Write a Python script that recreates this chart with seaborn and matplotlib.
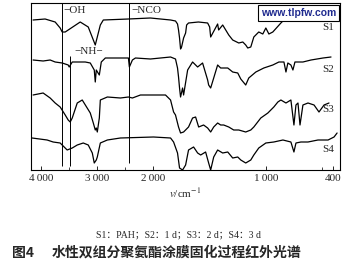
import numpy as np
import pandas as pd
import matplotlib
matplotlib.use("Agg")
import matplotlib.pyplot as plt
import seaborn as sns

# ---- data (wavenumber cm-1, relative transmittance incl. vertical offset) ----
s1_x = [4143, 3929, 3750, 3661, 3625, 3571, 3304, 3161, 3036, 2946, 2893, 2446, 2054, 1848, 1804,
        1786, 1777, 1768, 1759, 1750, 1732, 1714, 1705, 1688, 1600, 1518, 1500, 1491, 1429, 1420,
        1384, 1330, 1295, 1241, 1205, 1179, 1161, 1134, 1107, 1063, 1027, 1000, 973, 938, 866,
        821, 777, 732, 670, 625, 536, 482, 402]
s1_y = [150, 151, 148, 142, 138, 138, 148, 143, 125, 145, 150, 151, 152, 150, 149,
        146, 140, 132, 121, 123, 132, 137, 145, 147, 148, 147, 143, 133, 146, 140,
        145, 135, 130, 127, 128, 125, 122, 123, 133, 138, 136, 142, 136, 138, 147,
        152, 150, 155, 153, 157, 152, 150, 150]

s2_x = [4143, 3964, 3839, 3750, 3625, 3518, 3500, 3446, 3214, 3125, 3054, 3036, 3018, 2964, 2929,
        2857, 2446, 2429, 2375, 2321, 2054, 1848, 1804, 1786, 1777, 1768, 1759, 1741, 1732, 1696,
        1652, 1607, 1563, 1518, 1509, 1491, 1464, 1429, 1402, 1339, 1295, 1250, 1223, 1179, 1152,
        1089, 1018, 938, 884, 839, 821, 804, 777, 759, 741, 670, 598, 491, 420]
s2_y = [110, 109, 110, 108, 107, 105, 103, 108, 108, 107, 100, 88, 100, 95, 108,
        112, 112, 103, 110, 112, 111, 113, 111, 102, 93, 82, 73, 82, 75, 100,
        108, 103, 107, 90, 85, 82, 92, 105, 102, 102, 98, 97, 91, 85, 92,
        98, 102, 105, 108, 108, 98, 107, 105, 100, 108, 108, 110, 112, 113]

s3_x = [4143, 3964, 3839, 3750, 3661, 3571, 3518, 3482, 3446, 3357, 3268, 3125, 3071, 3036, 3018,
        3000, 2964, 2946, 2821, 2589, 2446, 2375, 2232, 2054, 1893, 1848, 1821, 1804, 1777, 1759,
        1732, 1688, 1652, 1625, 1598, 1554, 1518, 1491, 1464, 1429, 1402, 1375, 1330, 1286, 1241,
        1179, 1134, 1107, 1045, 982, 929, 893, 866, 821, 777, 750, 732, 714, 696, 670, 625, 571,
        527, 482, 438]
s3_y = [75, 77, 72, 67, 63, 55, 50, 48, 52, 67, 70, 57, 47, 40, 42,
        38, 52, 70, 73, 72, 73, 72, 75, 75, 75, 70, 58, 55, 43, 37,
        38, 43, 52, 53, 43, 45, 42, 38, 43, 47, 45, 45, 43, 40, 40,
        38, 40, 43, 52, 57, 63, 68, 70, 67, 70, 45, 65, 67, 45, 65, 67, 65,
        58, 65, 67]

s4_x = [4161, 3893, 3786, 3661, 3536, 3446, 3357, 3250, 3161, 3089, 3054, 3018, 3000, 2946, 2821,
        2589, 2000, 1848, 1821, 1786, 1768, 1741, 1714, 1688, 1643, 1607, 1580, 1536, 1509, 1491,
        1464, 1429, 1384, 1339, 1295, 1250, 1223, 1179, 1134, 1107, 1063, 1000, 929, 848, 777,
        750, 732, 688, 625, 536, 446, 393, 366]
s4_y = [32, 30, 28, 27, 20, 22, 25, 27, 25, 17, 7, 10, 13, 27, 30,
        32, 33, 32, 28, 17, 2, 0, 5, 20, 23, 17, 15, 18, 7, 0,
        13, 20, 17, 18, 12, 13, 10, 7, 10, 15, 22, 27, 28, 30, 28,
        18, 27, 28, 28, 30, 30, 33, 37]

series = ["S1", "S2", "S3", "S4"]
xs = [s1_x, s2_x, s3_x, s4_x]
ys = [s1_y, s2_y, s3_y, s4_y]

tick_vals = [4000, 3000, 2000, 1000, 400]
tick_labels = ["4\u2009000", "3\u2009000", "2\u2009000", "1\u2009000", "400"]
minor_vals = [3500, 2500, 1500, 500]

# marker lines (wavenumber) and their labels
mark_x = [3629, 3493, 2435]
mark_labels = ["\u2212OH", "\u2212NH\u2212", "\u2212NCO"]

caption1 = "S1\uff1aPAH\uff1bS2\uff1a1 d\uff1bS3\uff1a2 d\uff1bS4\uff1a3 d"
caption2a = "图4"
caption2b = "水性双组分聚氨酯涂膜固化过程红外光谱"
watermark = "www.tlpfw.com"

# ---- build data frame ----
frames = []
for name, x, y in zip(series, xs, ys):
    frames.append(pd.DataFrame({"wn": x, "T": y, "s": name}))
df = pd.concat(frames, ignore_index=True)

sns.set_theme(style="white")
plt.rcParams["font.family"] = ["Liberation Serif", "Noto Sans CJK SC", "DejaVu Sans"]
plt.rcParams["mathtext.fontset"] = "stix"

fig = plt.figure(figsize=(3.45, 2.66), dpi=100)
ax = fig.add_axes([31 / 345, 1 - 170 / 266, 309 / 345, 167 / 266])


def fwd(x):
    x = np.asarray(x, dtype=float)
    return np.where(x > 2000, 2000 + (x - 2000) / 2.0, x)


def inv(u):
    u = np.asarray(u, dtype=float)
    return np.where(u > 2000, 2000 + (u - 2000) * 2.0, u)


ax.set_xscale("function", functions=(fwd, inv))

sns.lineplot(data=df, x="wn", y="T", hue="s", units="s", estimator=None,
             palette=["black"] * 4, legend=False, linewidth=0.9, ax=ax, sort=True)

ax.set_xlim(4180, 340)
ax.set_ylim(0, 167)

# marker lines
ax.vlines(mark_x[0], 4, 167, color="black", lw=0.7)
ax.vlines(mark_x[1], 4, 114, color="black", lw=0.7)
ax.vlines(mark_x[2], 7, 167, color="black", lw=0.7)
ax.text(3600, 164, mark_labels[0], fontsize=8, ha="left", va="top")
ax.text(3160, 119, mark_labels[1], fontsize=8, ha="center", va="center")
ax.text(2400, 164, mark_labels[2], fontsize=8, ha="left", va="top")

# series labels
for name, yf in zip(series, [0.856, 0.60, 0.36, 0.12]):
    ax.text(0.962, yf, name, transform=ax.transAxes, fontsize=8,
            ha="center", va="center")

# ticks
ax.set_xticks(tick_vals)
ax.set_xticklabels(tick_labels, fontsize=8)
ax.set_xticks(minor_vals, minor=True)
ax.tick_params(axis="x", which="major", direction="in", length=3, width=0.7,
               bottom=True, pad=3)
ax.tick_params(axis="x", which="minor", direction="in", length=2, width=0.6, bottom=True)
ax.set_yticks([])
ax.set_xlabel("$v$/cm$^{-1}$", fontsize=8, labelpad=2)
ax.set_ylabel("")
for sp in ax.spines.values():
    sp.set_visible(True)
    sp.set_color("black")
    sp.set_linewidth(0.8)

# watermark box
ax.text(0.865, 0.94, watermark, transform=ax.transAxes, fontsize=7.5,
        fontweight="bold", color="#1f2a8f", family=["Liberation Sans", "DejaVu Sans"],
        ha="center", va="center",
        bbox=dict(boxstyle="square,pad=0.25", fc="white", ec="black", lw=0.8))

# captions
fig.text(0.516, 1 - 235 / 266, caption1, fontsize=7, ha="center", va="center",
         family=["Liberation Serif", "Noto Sans CJK SC"])
fig.text(12 / 345, 1 - 253 / 266, caption2a, fontsize=10, ha="left", va="center",
         fontweight="bold", family=["Noto Sans CJK SC", "DejaVu Sans"])
fig.text(52 / 345, 1 - 253 / 266, caption2b, fontsize=10, ha="left", va="center",
         fontweight="bold", family=["Noto Sans CJK SC", "DejaVu Sans"])

fig.savefig("out.png", dpi=100)
